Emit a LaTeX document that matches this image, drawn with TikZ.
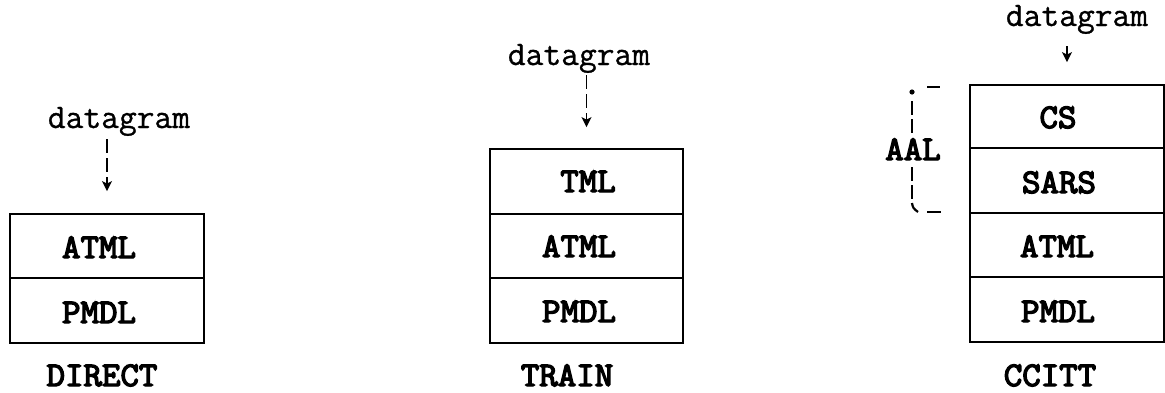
\documentclass[tikz,border=0pt]{standalone}
\usepackage{fontspec}
\newfontfamily\typerfont{Latin Modern Mono}[FakeBold=0.8]
\newfontfamily\typerbold{Latin Modern Mono}[FakeBold=4, FakeStretch=1.04]
\usetikzlibrary{arrows.meta}

\tikzset{
  cell/.style={draw, line width=1.8pt, inner sep=0pt, minimum width=194pt},
  lbl/.style={anchor=base, inner sep=0pt, font=\typerbold\fontsize{34.5}{40}\selectfont},
  dgram/.style={anchor=base, inner sep=0pt, font=\typerfont\fontsize{34.5}{40}\selectfont},
  flow/.style={line width=1.5pt, -{Stealth[length=10pt,width=10pt,inset=2.5pt]}},
  dashflow/.style={flow, dash pattern=on 14pt off 5pt},
  brack/.style={line width=2pt, dash pattern=on 14pt off 4pt},
  tick/.style={line width=2.6pt},
}

\begin{document}
\begin{tikzpicture}[x=1pt,y=-1pt]
\useasboundingbox (0,0) rectangle (1165,392);

% ---------- DIRECT stack ----------
\node[cell, minimum height=64pt] (d1) at (107,246) {};
\node[cell, minimum height=65pt] (d2) at (107,310.5) {};
\node[lbl] (d1t) at (99,258) {ATML};
\node[lbl] (d2t) at (99,323) {PMDL};
\node[lbl] (dcap) at (102,386) {DIRECT};
\node[dgram] (dg1) at (119,128) {datagram};
\draw[dashflow, shorten <=3pt, shorten >=22pt] (dg1.south -| d1.north) -- (d1.north);

% ---------- TRAIN stack ----------
\node[cell, minimum width=193pt, minimum height=65pt] (t1) at (586.5,181.5) {};
\node[cell, minimum width=193pt, minimum height=64pt] (t2) at (586.5,246) {};
\node[cell, minimum width=193pt, minimum height=65pt] (t3) at (586.5,310.5) {};
\node[lbl] (t1t) at (588,192) {TML};
\node[lbl] (t2t) at (579,257) {ATML};
\node[lbl] (t3t) at (579,322) {PMDL};
\node[lbl] (tcap) at (567,386) {TRAIN};
\node[dgram] (dg2) at (579,65) {datagram};
\draw[dashflow, shorten <=2pt, shorten >=21pt] (dg2.south -| t1.north) -- (t1.north);

% ---------- CCITT stack ----------
\node[cell, minimum height=63pt] (c1) at (1067,116.5) {};
\node[cell, minimum height=65pt] (c2) at (1067,180.5) {};
\node[cell, minimum height=64pt] (c3) at (1067,245) {};
\node[cell, minimum height=65pt] (c4) at (1067,309.5) {};
\node[lbl] (c1t) at (1058,128) {CS};
\node[lbl] (c2t) at (1059,193) {SARS};
\node[lbl] (c3t) at (1057,257) {ATML};
\node[lbl] (c4t) at (1058,322) {PMDL};
\node[lbl] (ccap) at (1050,386) {CCITT};
\node[dgram] (dg3) at (1077,26) {datagram};
\draw[flow, shorten <=12pt, shorten >=22pt] (dg3.south -| c1.north) -- (c1.north);

% ---------- AAL bracket over CS and SARS ----------
\node[lbl] (aal) at (913,160) {AAL};
\coordinate (bt) at (912,101);
\coordinate (bb) at (912,200);
\fill (912,92) circle (2.6pt);
\draw[tick] (927,87) -- (940,87);
\draw[brack] (bt) -- (bt |- 0,136);
\draw[brack] (bb |- 0,167) -- (bb);
\draw[line width=2.2pt] (912,203) .. controls (913,208) .. (918,212);
\draw[tick] (927,212) -- (941,212);
\end{tikzpicture}
\end{document}
